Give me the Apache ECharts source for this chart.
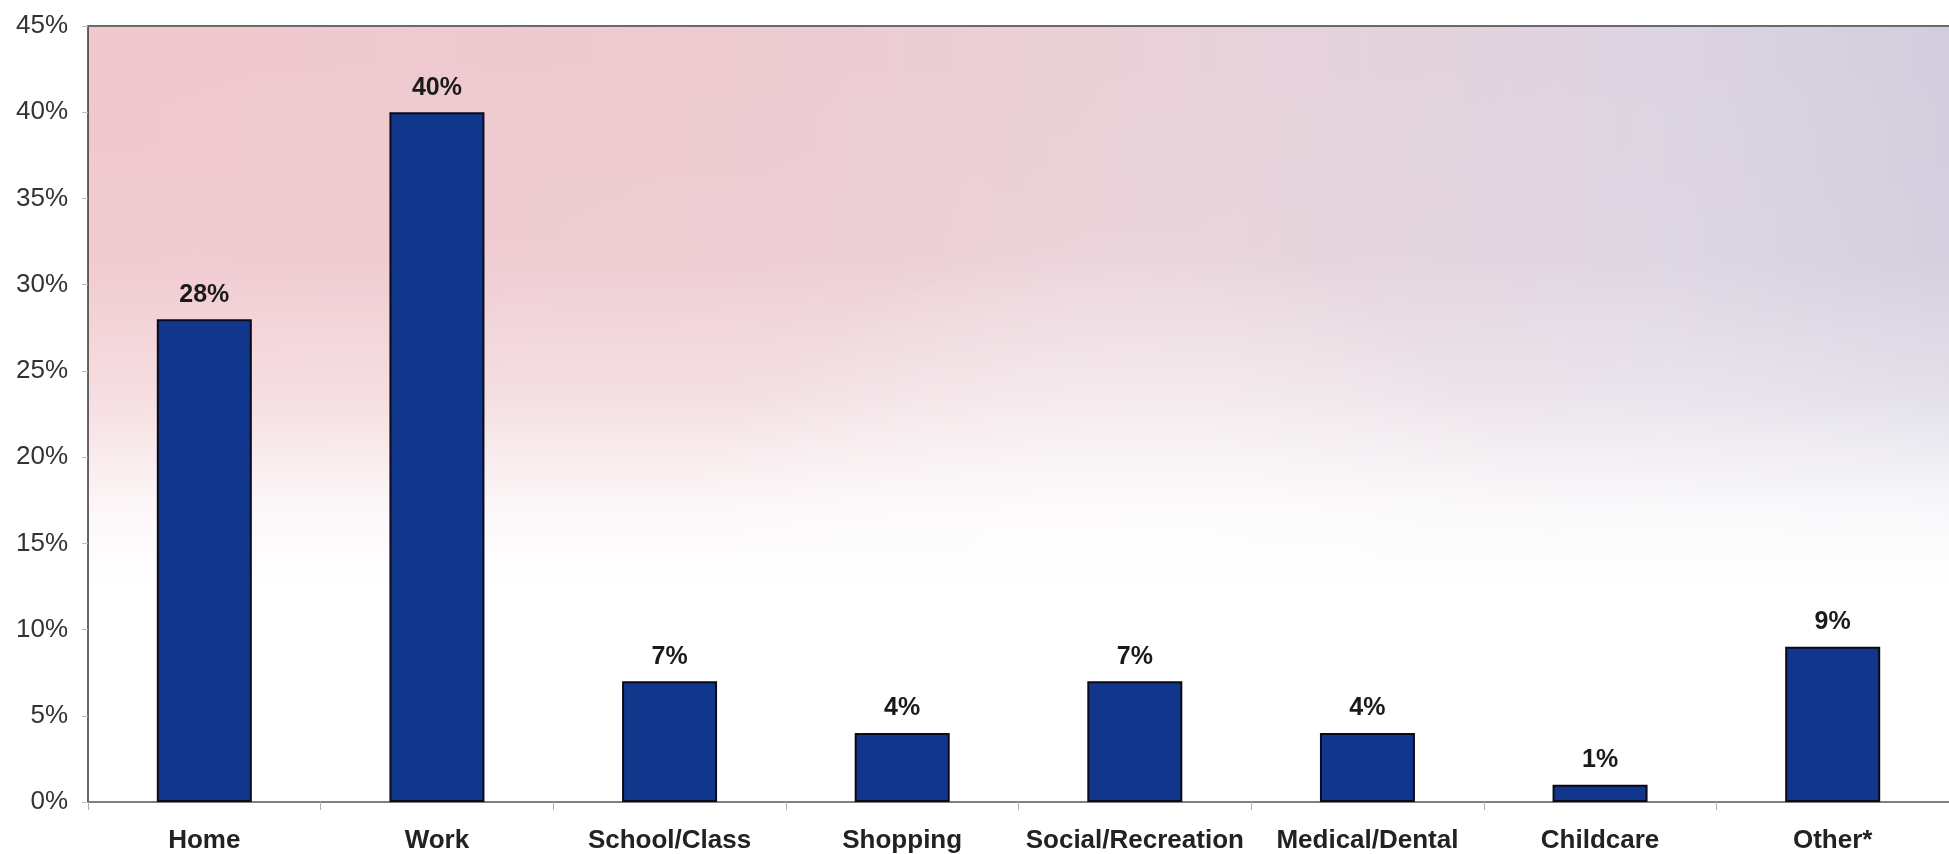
<!DOCTYPE html>
<html>
<head>
<meta charset="utf-8">
<title>Trip purpose</title>
<script src="https://cdn.jsdelivr.net/npm/echarts@6/dist/echarts.min.js"></script>
<style>
  html, body { margin: 0; padding: 0; background: #ffffff; }
  #chart { width: 1949px; height: 854px; }
</style>
</head>
<body>
<div id="chart"></div>
<script>
// Trip purposes and their shares (percent)
const categories = ['Home', 'Work', 'School/Class', 'Shopping', 'Social/Recreation', 'Medical/Dental', 'Childcare', 'Other*'];
const shares = [28, 40, 7, 4, 7, 4, 1, 9];
const yTicks = { min: 0, max: 45, step: 5 };

const FONT = '"Liberation Sans", Arial, sans-serif';
const grid = { left: 88, top: 26, right: 0, bottom: 52 };
const plotW = 1949 - grid.left - grid.right;
const plotH = 854 - grid.top - grid.bottom;

const chart = echarts.init(document.getElementById('chart'), null, { renderer: 'canvas' });

const plotRect = { x: grid.left, y: grid.top, width: plotW, height: plotH };

chart.setOption({
  animation: false,
  backgroundColor: '#ffffff',
  // soft pink-to-lavender wash in the plot area, fading to white lower down
  graphic: [
    {
      type: 'rect', z: -10, silent: true, shape: plotRect,
      style: {
        fill: new echarts.graphic.LinearGradient(0, 0, 1, 0, [
          { offset: 0, color: '#f0c8ce' },
          { offset: 0.35, color: '#edcbd1' },
          { offset: 0.6, color: '#e8d2d9' },
          { offset: 0.85, color: '#ddd4e2' },
          { offset: 1, color: '#d2cddd' }
        ])
      }
    },
    {
      type: 'rect', z: -9, silent: true, shape: plotRect,
      style: {
        fill: new echarts.graphic.LinearGradient(0, 0, 0, 1, [
          { offset: 0, color: 'rgba(255,255,255,0)' },
          { offset: 0.3, color: 'rgba(255,255,255,0.05)' },
          { offset: 0.48, color: 'rgba(255,255,255,0.4)' },
          { offset: 0.62, color: 'rgba(255,255,255,0.85)' },
          { offset: 0.72, color: 'rgba(255,255,255,1)' },
          { offset: 1, color: 'rgba(255,255,255,1)' }
        ])
      }
    },
    {
      // slightly whiter haze toward the lower middle of the plot
      type: 'rect', z: -8, silent: true, shape: plotRect,
      style: {
        fill: new echarts.graphic.RadialGradient(0.55, 0.85, 0.6, [
          { offset: 0, color: 'rgba(255,255,255,0.6)' },
          { offset: 0.6, color: 'rgba(255,255,255,0.25)' },
          { offset: 1, color: 'rgba(255,255,255,0)' }
        ])
      }
    }
  ],
  grid: { left: grid.left, top: grid.top, right: grid.right, bottom: grid.bottom, containLabel: false },
  xAxis: [
    {
      type: 'category',
      data: categories,
      position: 'bottom',
      axisLine: { show: true, lineStyle: { color: '#555555', width: 1.5 } },
      axisTick: { show: true, length: 8, lineStyle: { color: '#b0b0b0', width: 1 } },
      axisLabel: {
        interval: 0, margin: 26,
        fontFamily: FONT, fontSize: 26, fontWeight: 'bold', color: '#222222'
      },
      splitLine: { show: false }
    },
    {
      type: 'category',
      data: categories,
      position: 'top',
      axisLine: { show: true, lineStyle: { color: '#6a6a6a', width: 2 } },
      axisTick: { show: false },
      axisLabel: { show: false },
      splitLine: { show: false }
    }
  ],
  yAxis: {
    type: 'value',
    min: yTicks.min, max: yTicks.max, interval: yTicks.step,
    axisLine: { show: true, lineStyle: { color: '#333333', width: 1.5 } },
    axisTick: { show: true, length: 6, lineStyle: { color: '#c0c0c0', width: 1 } },
    axisLabel: {
      margin: 20,
      formatter: '{value}%',
      fontFamily: FONT, fontSize: 26, color: '#333333'
    },
    splitLine: { show: false }
  },
  series: [{
    type: 'bar',
    xAxisIndex: 0,
    data: shares,
    barWidth: 95,
    itemStyle: { color: '#10378c', borderColor: '#0a0a1a', borderWidth: 2 },
    label: {
      show: true, position: 'top', distance: 12,
      formatter: '{c}%',
      fontFamily: FONT, fontSize: 25, fontWeight: 'bold', color: '#1a1a1a'
    }
  }]
});
</script>
</body>
</html>
